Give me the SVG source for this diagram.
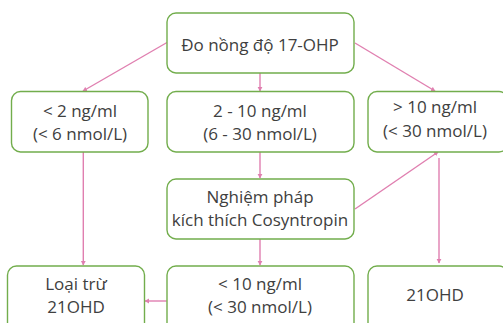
<svg xmlns="http://www.w3.org/2000/svg" width="503" height="323" viewBox="0 0 503 323">
<defs>
<style>
.box{fill:#fff;stroke:#72ad4c;stroke-width:1.4}
.t{font-family:"Open Sans","Liberation Sans",sans-serif;font-size:17px;fill:#404040;text-anchor:middle}
.c{stroke:#e07fb0;stroke-width:1.4;fill:none;marker-end:url(#a)}
</style>
<marker id="a" markerUnits="userSpaceOnUse" markerWidth="6" markerHeight="6" refX="4" refY="3" orient="auto">
<path d="M0,0.6 L4.5,3 L0,5.4 Z" fill="#e07fb0"/>
</marker>
</defs>
<rect width="503" height="323" fill="#fff"/>
<g id="connectors">
<line class="c" x1="167" y1="42.5" x2="83" y2="91"/>
<line class="c" x1="260" y1="73" x2="260" y2="91"/>
<line class="c" x1="355" y1="43" x2="435" y2="91"/>
<line class="c" x1="83.3" y1="152" x2="83.3" y2="265"/>
<line class="c" x1="260" y1="152" x2="260" y2="178"/>
<line class="c" x1="355" y1="209" x2="438" y2="152"/>
<line class="c" x1="439" y1="158" x2="439" y2="263"/>
<line class="c" x1="260" y1="239" x2="260" y2="265"/>
<line class="c" x1="166.7" y1="301" x2="145" y2="301"/>
</g>
<g id="n1"><rect class="box" x="167" y="13" width="187" height="60" rx="9"/><text class="t" x="260" y="51">Đo nồng độ 17-OHP</text></g>
<g id="n2"><rect class="box" x="11.5" y="91.5" width="136.5" height="60.5" rx="9"/><text class="t" x="80" y="117">&lt; 2 ng/ml</text><text class="t" x="80" y="140">(&lt; 6 nmol/L)</text></g>
<g id="n3"><rect class="box" x="167" y="91.5" width="187" height="60.5" rx="9"/><text class="t" x="260" y="117">2 - 10 ng/ml</text><text class="t" x="260" y="140">(6 - 30 nmol/L)</text></g>
<g id="n4"><rect class="box" x="368" y="91.5" width="140" height="60.5" rx="9"/><text class="t" x="435" y="113">&gt; 10 ng/ml</text><text class="t" x="435" y="136.5">(&lt; 30 nmol/L)</text></g>
<g id="n5"><rect class="box" x="167" y="179" width="187" height="60" rx="9"/><text class="t" x="260" y="203">Nghiệm pháp</text><text class="t" x="260" y="226">kích thích Cosyntropin</text></g>
<g id="n6"><rect class="box" x="7.5" y="266" width="137" height="70" rx="9"/><text class="t" x="76" y="290">Loại trừ</text><text class="t" x="76" y="313">21OHD</text></g>
<g id="n7"><rect class="box" x="167" y="266" width="187" height="70" rx="9"/><text class="t" x="260" y="290">&lt; 10 ng/ml</text><text class="t" x="260" y="313">(&lt; 30 nmol/L)</text></g>
<g id="n8"><rect class="box" x="368" y="266" width="140" height="70" rx="9"/><text class="t" x="435" y="300.5">21OHD</text></g>
</svg>
